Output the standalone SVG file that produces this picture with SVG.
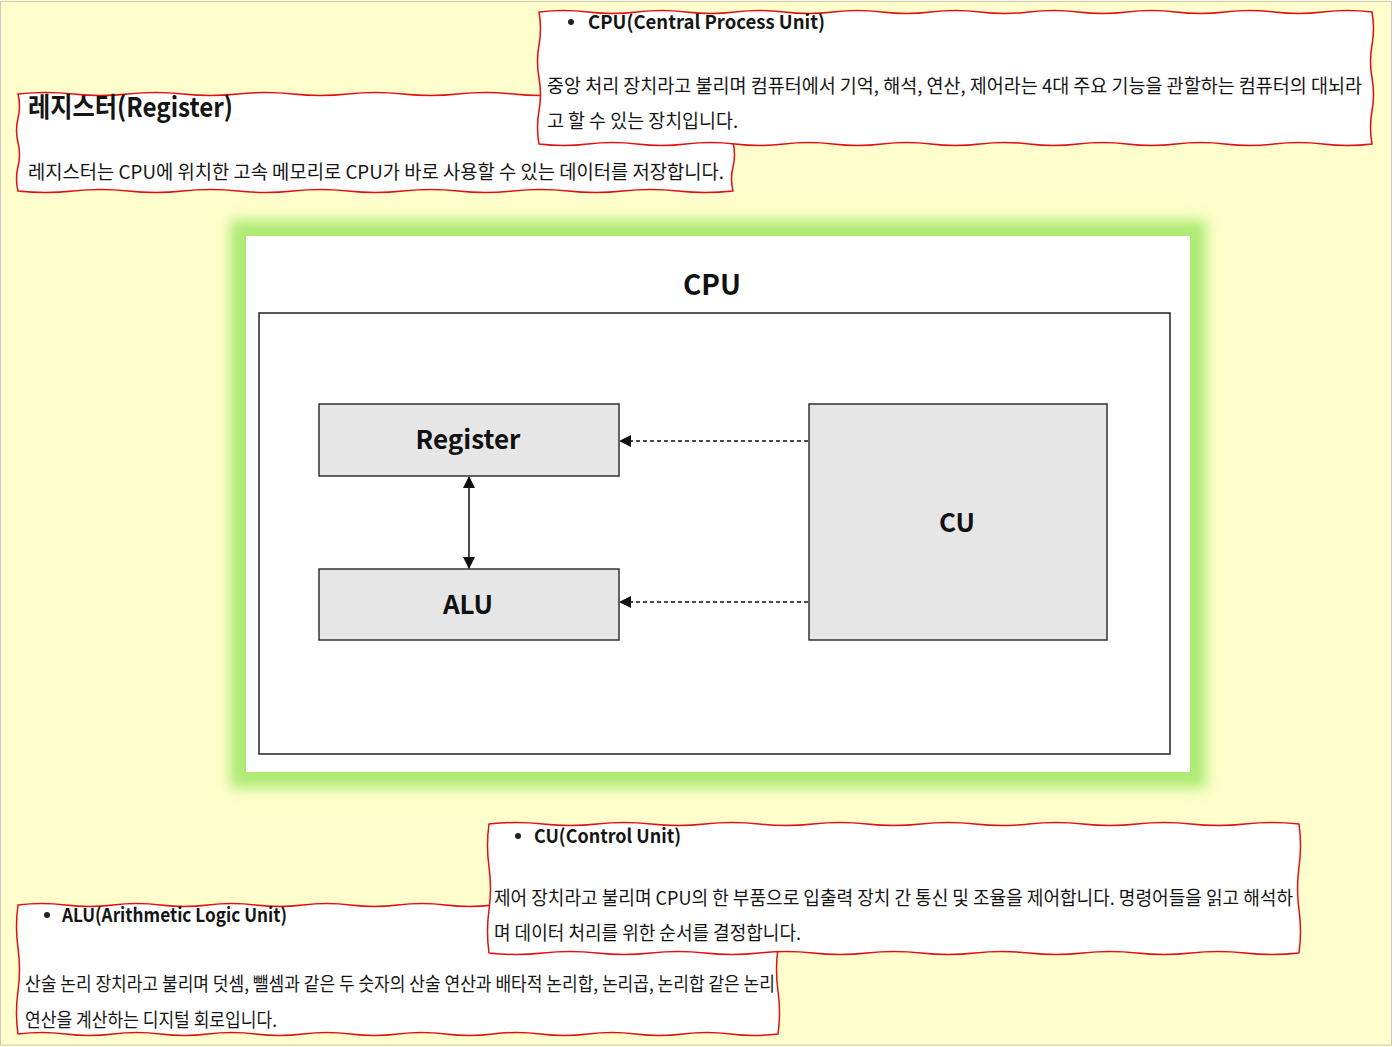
<svg xmlns="http://www.w3.org/2000/svg" width="1392" height="1047" viewBox="0 0 1392 1047">
<style>
.bg{fill:#fffecc}
.note{fill:#fff;stroke:#e01010;stroke-width:1.5;stroke-linejoin:round}
.t{font-family:"Noto Sans CJK KR","Noto Sans",sans-serif;fill:#151515}
.body{font-size:19px}
.head{font-size:19px;font-weight:700}
.h2{font-size:27px;font-weight:700}
.dg{font-family:"Noto Sans CJK KR","Open Sans",sans-serif;font-weight:700;fill:#111;text-anchor:middle}
.blk{fill:#e6e6e6;stroke:#333;stroke-width:1.5}
.frame{fill:#fff;stroke:#222;stroke-width:1.5}
.con{stroke:#111;stroke-width:1.5;fill:none}
.dash{stroke-dasharray:4 3}
</style>
<defs>
<filter id="glow" x="-10%" y="-10%" width="120%" height="120%"><feGaussianBlur stdDeviation="7"/></filter>
<marker id="ah" viewBox="0 0 12 12" refX="11" refY="6" markerWidth="12" markerHeight="12" markerUnits="userSpaceOnUse" orient="auto-start-reverse"><path d="M0,0 L12,6 L0,12 Z" fill="#111"/></marker>
</defs>
<rect class="bg" x="0" y="0" width="1392" height="1047"/>
<rect x="0.5" y="1.5" width="1391" height="1043.5" fill="none" stroke="#c8c8c8" stroke-width="1"/>

<g id="register-note">
<path class="note" d="M18,94 q27.5,-3 55,0 t55,0 t55,0 t55,0 t55,0 t55,0 t55,0 t55,0 t55,0 t55,0 t55,0 t55,0 t55,0 q3,12.125 0,24.25 t0,24.25 t0,24.25 t0,24.25 q-27.5,3 -55,0 t-55,0 t-55,0 t-55,0 t-55,0 t-55,0 t-55,0 t-55,0 t-55,0 t-55,0 t-55,0 t-55,0 t-55,0 q-3,-12.125 0,-24.25 t0,-24.25 t0,-24.25 t0,-24.25 Z"/>
<text class="t h2" x="28" y="117" textLength="205" lengthAdjust="spacingAndGlyphs">레지스터(Register)</text>
<text class="t body" x="28" y="179" textLength="696" lengthAdjust="spacingAndGlyphs">레지스터는 CPU에 위치한 고속 메모리로 CPU가 바로 사용할 수 있는 데이터를 저장합니다.</text>
</g>

<g id="cpu-note">
<path class="note" d="M539,12 q24.5,-3 49,0 t49,0 t49,0 t49,0 t49,0 t49,0 t49,0 t49,0 t49,0 t49,0 t49,0 t49,0 t49,0 t49,0 t49,0 t49,0 t49,0 q3,16.5 0,33 t0,33 t0,33 t0,33 q-24.5,3 -49,0 t-49,0 t-49,0 t-49,0 t-49,0 t-49,0 t-49,0 t-49,0 t-49,0 t-49,0 t-49,0 t-49,0 t-49,0 t-49,0 t-49,0 t-49,0 t-49,0 q-3,-16.5 0,-33 t0,-33 t0,-33 t0,-33 Z"/>
<circle cx="571" cy="22" r="3" fill="#222"/>
<text class="t head" x="588" y="29" textLength="237" lengthAdjust="spacingAndGlyphs">CPU(Central Process Unit)</text>
<text class="t body" x="547" y="93" textLength="815" lengthAdjust="spacingAndGlyphs">중앙 처리 장치라고 불리며 컴퓨터에서 기억, 해석, 연산, 제어라는 4대 주요 기능을 관할하는 컴퓨터의 대뇌라</text>
<text class="t body" x="547" y="128" textLength="191" lengthAdjust="spacingAndGlyphs">고 할 수 있는 장치입니다.</text>
</g>

<g id="cpu-diagram">
<rect x="230" y="220" width="976" height="568" fill="#acea72" filter="url(#glow)"/>
<rect x="246" y="236" width="944" height="536" fill="#fff"/>
<text class="dg" x="712" y="295" font-size="28">CPU</text>
<rect class="frame" x="259" y="313" width="911" height="441"/>
</g>

<g id="register">
<rect class="blk" x="319" y="404" width="300" height="72"/>
<text class="dg" x="468" y="449" font-size="26">Register</text>
</g>
<g id="alu">
<rect class="blk" x="319" y="569" width="300" height="71"/>
<text class="dg" x="468" y="614" font-size="26">ALU</text>
</g>
<g id="cu">
<rect class="blk" x="809" y="404" width="298" height="236"/>
<text class="dg" x="957" y="532" font-size="26">CU</text>
</g>

<g id="connectors">
<line class="con dash" x1="808" y1="441" x2="620" y2="441" marker-end="url(#ah)"/>
<line class="con dash" x1="808" y1="602" x2="620" y2="602" marker-end="url(#ah)"/>
<line class="con" x1="469" y1="477" x2="469" y2="568" marker-start="url(#ah)" marker-end="url(#ah)"/>
</g>

<g id="alu-note">
<path class="note" d="M18,905 q23.75,-3 47.5,0 t47.5,0 t47.5,0 t47.5,0 t47.5,0 t47.5,0 t47.5,0 t47.5,0 t47.5,0 t47.5,0 t47.5,0 t47.5,0 t47.5,0 t47.5,0 t47.5,0 t47.5,0 q3,21.5 0,43 t0,43 t0,43 q-23.75,3 -47.5,0 t-47.5,0 t-47.5,0 t-47.5,0 t-47.5,0 t-47.5,0 t-47.5,0 t-47.5,0 t-47.5,0 t-47.5,0 t-47.5,0 t-47.5,0 t-47.5,0 t-47.5,0 t-47.5,0 t-47.5,0 q-3,-21.5 0,-43 t0,-43 t0,-43 Z"/>
<circle cx="47" cy="915" r="3" fill="#222"/>
<text class="t head" x="62" y="922" textLength="225" lengthAdjust="spacingAndGlyphs">ALU(Arithmetic Logic Unit)</text>
<text class="t body" x="25" y="991" textLength="750" lengthAdjust="spacingAndGlyphs">산술 논리 장치라고 불리며 덧셈, 뺄셈과 같은 두 숫자의 산술 연산과 배타적 논리합, 논리곱, 논리합 같은 논리</text>
<text class="t body" x="25" y="1027" textLength="252" lengthAdjust="spacingAndGlyphs">연산을 계산하는 디지털 회로입니다.</text>
</g>

<g id="cu-note">
<path class="note" d="M489,824 q27,-3 54,0 t54,0 t54,0 t54,0 t54,0 t54,0 t54,0 t54,0 t54,0 t54,0 t54,0 t54,0 t54,0 t54,0 t54,0 q3,21.5 0,43 t0,43 t0,43 q-27,3 -54,0 t-54,0 t-54,0 t-54,0 t-54,0 t-54,0 t-54,0 t-54,0 t-54,0 t-54,0 t-54,0 t-54,0 t-54,0 t-54,0 t-54,0 q-3,-21.5 0,-43 t0,-43 t0,-43 Z"/>
<circle cx="518" cy="836" r="3" fill="#222"/>
<text class="t head" x="534" y="843" textLength="147" lengthAdjust="spacingAndGlyphs">CU(Control Unit)</text>
<text class="t body" x="494" y="905" textLength="799" lengthAdjust="spacingAndGlyphs">제어 장치라고 불리며 CPU의 한 부품으로 입출력 장치 간 통신 및 조율을 제어합니다. 명령어들을 읽고 해석하</text>
<text class="t body" x="494" y="940" textLength="307" lengthAdjust="spacingAndGlyphs">며 데이터 처리를 위한 순서를 결정합니다.</text>
</g>
</svg>
